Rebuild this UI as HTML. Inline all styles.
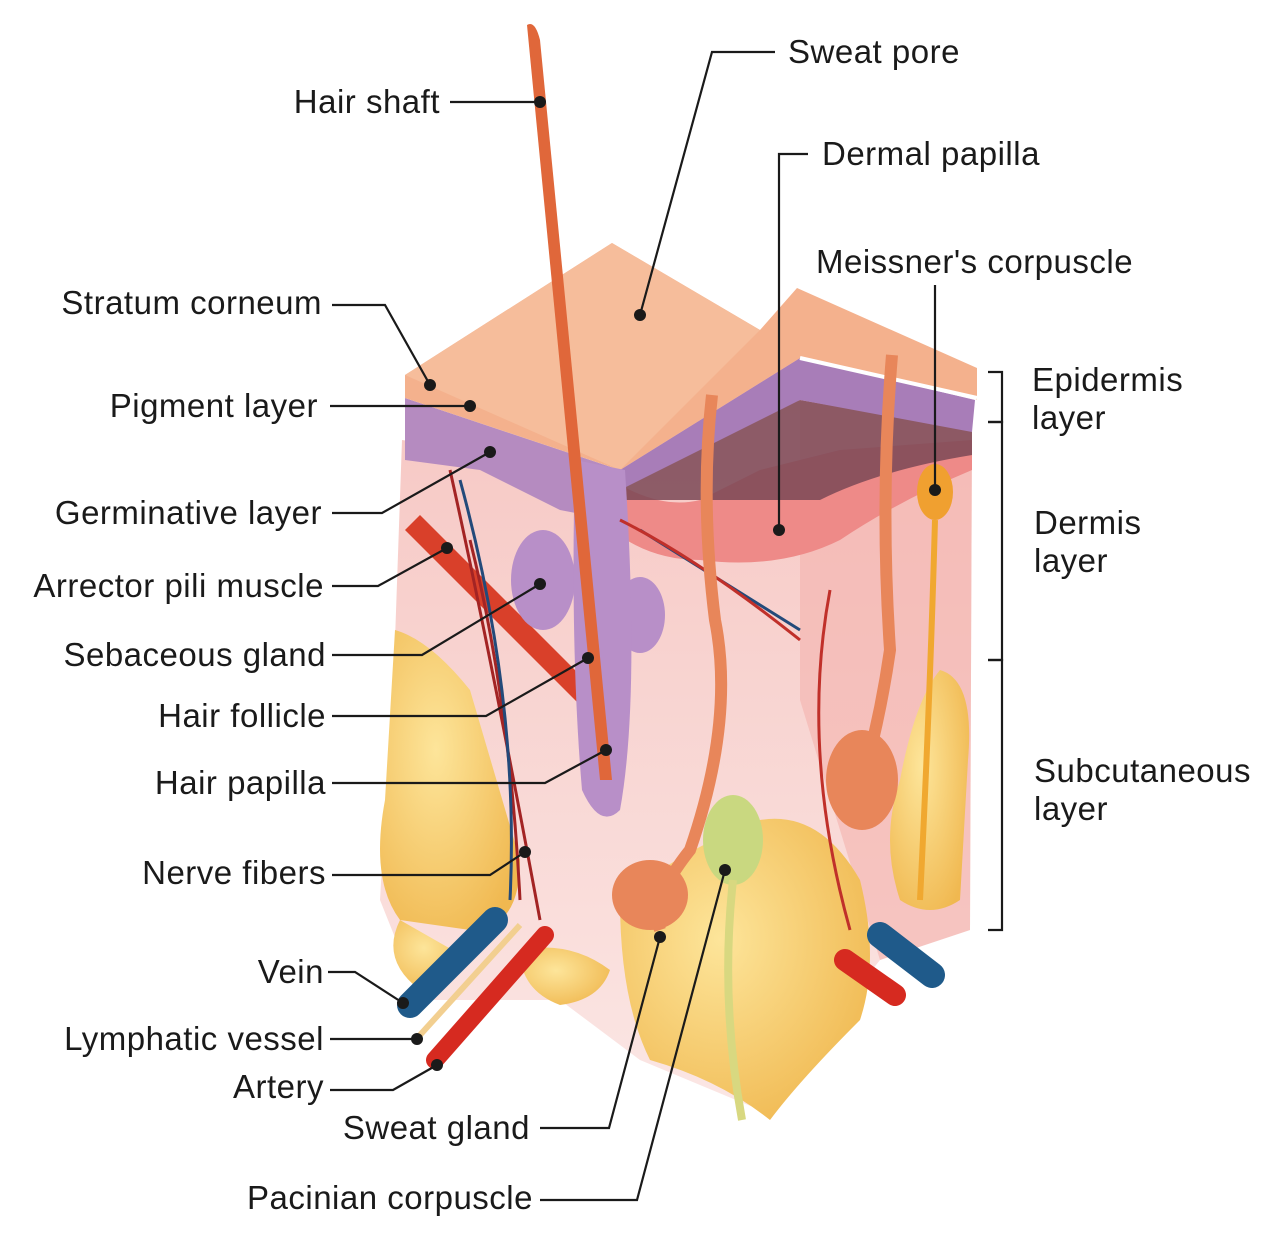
<!DOCTYPE html>
<html><head><meta charset="utf-8"><style>
body{margin:0;background:#fff;}
svg{display:block;}
text{font-family:"Liberation Sans",sans-serif;font-size:33px;letter-spacing:0.5px;fill:#1a1a1a;}
</style></head><body>
<svg width="1280" height="1241" viewBox="0 0 1280 1241" xmlns="http://www.w3.org/2000/svg">
<defs>
<linearGradient id="derm" x1="0" y1="0" x2="0" y2="1"><stop offset="0" stop-color="#f6c6c2"/><stop offset="1" stop-color="#fbe6e4"/></linearGradient>
<radialGradient id="fat" cx="0.4" cy="0.4" r="0.7"><stop offset="0" stop-color="#fde59a"/><stop offset="1" stop-color="#f0b850"/></radialGradient>
</defs>
<polygon points="402,440 610,470 800,355 972,420 970,930 880,960 760,1110 640,1060 560,1000 420,1000 380,900 395,640" fill="url(#derm)"/>
<polygon points="800,355 972,420 970,930 880,960 800,700" fill="#f4b2ae" opacity="0.6"/>
<path d="M395,630 Q430,640 470,690 L520,860 Q520,930 470,930 L400,920 Q370,880 385,800 Z" fill="url(#fat)"/>
<path d="M400,920 Q380,960 420,990 L470,960 Z" fill="url(#fat)"/>
<path d="M620,900 Q680,850 760,820 Q820,810 860,880 Q880,960 860,1020 Q800,1080 770,1120 Q720,1080 650,1060 Q620,1000 620,900 Z" fill="url(#fat)"/>
<path d="M940,670 Q975,680 968,760 L960,900 Q930,920 900,900 Q880,840 900,780 Q915,700 940,670 Z" fill="url(#fat)"/>
<path d="M520,950 Q570,940 610,970 Q600,1000 560,1005 Q520,990 520,950 Z" fill="url(#fat)"/>
<path d="M612,480 Q660,510 700,500 L760,470 Q800,460 840,450 L972,440 L972,470 Q900,500 840,540 Q780,570 700,560 Q650,560 612,530 Z" fill="#ee8a88"/>
<path d="M612,475 L800,400 L972,430 L972,455 Q880,470 820,500 L612,500 Z" fill="#7a4856" opacity="0.85"/>
<polygon points="405,398 620,470 612,520 560,510 480,470 405,460" fill="#b58bc0"/>
<polygon points="620,470 800,358 975,400 972,432 800,400 620,490" fill="#a87db8"/>
<polygon points="405,375 612,243 760,330 797,288 977,368 977,400 800,358 620,470 405,398" fill="#f4b18d"/>
<polygon points="612,243 760,330 620,470 405,375" fill="#f6bd9b"/>
<polyline points="800,358 977,398" stroke="#fff" stroke-width="4" fill="none"/>
<polygon points="405,530 420,515 595,690 580,705" fill="#d9402a"/>
<ellipse cx="543" cy="580" rx="32" ry="50" fill="#b88fc8"/>
<ellipse cx="640" cy="615" rx="25" ry="38" fill="#b88fc8"/>
<path d="M575,460 Q570,650 582,790 Q600,830 620,810 Q640,700 625,470 Z" fill="#b88fc8"/>
<path d="M527,25 Q535,20 540,40 L612,780 L600,780 Z" fill="#e0673a"/>
<path d="M470,540 Q510,700 520,900 M450,470 Q490,650 540,920" stroke="#a32424" stroke-width="3" fill="none"/>
<path d="M460,480 Q520,700 510,900 M640,530 Q720,580 800,630" stroke="#234a7a" stroke-width="3" fill="none"/>
<path d="M620,520 Q700,560 800,640 M830,590 Q800,750 850,930" stroke="#c0302a" stroke-width="3" fill="none"/>
<path d="M712,395 Q700,500 715,620 Q735,720 690,850 Q650,900 660,930" stroke="#e8865a" stroke-width="12" fill="none"/>
<ellipse cx="650" cy="895" rx="38" ry="35" fill="#e8865a"/>
<path d="M892,355 Q880,500 890,650 Q880,720 860,790" stroke="#e8865a" stroke-width="12" fill="none"/>
<ellipse cx="862" cy="780" rx="36" ry="50" fill="#e8865a"/>
<ellipse cx="935" cy="492" rx="18" ry="28" fill="#f0a030"/>
<path d="M935,520 Q930,700 920,900" stroke="#f0a830" stroke-width="6" fill="none"/>
<ellipse cx="733" cy="840" rx="30" ry="45" fill="#c9d880"/>
<path d="M733,880 Q720,1000 742,1120" stroke="#d8d880" stroke-width="8" fill="none"/>
<line x1="410" y1="1005" x2="495" y2="920" stroke="#1f5a8a" stroke-width="26" stroke-linecap="round"/>
<line x1="435" y1="1060" x2="545" y2="935" stroke="#d62a20" stroke-width="18" stroke-linecap="round"/>
<line x1="420" y1="1035" x2="520" y2="925" stroke="#f2cf90" stroke-width="6"/>
<line x1="845" y1="960" x2="895" y2="995" stroke="#d62a20" stroke-width="22" stroke-linecap="round"/>
<line x1="880" y1="935" x2="932" y2="975" stroke="#1f5a8a" stroke-width="26" stroke-linecap="round"/>
<g stroke="#1a1a1a" stroke-width="2.2" fill="none">
<polyline points="450,102 540,102"/>
<polyline points="775,52 712,52 640,315"/>
<polyline points="808,154 779,154 779,530"/>
<polyline points="935,285 935,490"/>
<polyline points="332,305 385,305 430,385"/>
<polyline points="330,406 470,406"/>
<polyline points="332,513 382,513 490,452"/>
<polyline points="332,586 378,586 447,548"/>
<polyline points="332,655 422,655 540,584"/>
<polyline points="332,716 486,716 588,658"/>
<polyline points="332,783 545,783 606,750"/>
<polyline points="332,875 490,875 525,852"/>
<polyline points="328,972 355,972 403,1003"/>
<polyline points="330,1039 417,1039"/>
<polyline points="330,1090 393,1090 437,1065"/>
<polyline points="540,1128 609,1128 660,937"/>
<polyline points="540,1200 637,1200 725,870"/>
<polyline points="988,372 1002,372 1002,422 988,422 M1002,397 1018,397"/>
<polyline points="988,422 1002,422 1002,660 988,660 M1002,540 1018,540"/>
<polyline points="988,660 1002,660 1002,930 988,930 M1002,785 1018,785"/>
</g>
<g fill="#1a1a1a">
<circle cx="540" cy="102" r="6"/><circle cx="640" cy="315" r="6"/><circle cx="779" cy="530" r="6"/>
<circle cx="935" cy="490" r="6"/><circle cx="430" cy="385" r="6"/><circle cx="470" cy="406" r="6"/>
<circle cx="490" cy="452" r="6"/><circle cx="447" cy="548" r="6"/><circle cx="540" cy="584" r="6"/>
<circle cx="588" cy="658" r="6"/><circle cx="606" cy="750" r="6"/><circle cx="525" cy="852" r="6"/>
<circle cx="403" cy="1003" r="6"/><circle cx="417" cy="1039" r="6"/><circle cx="437" cy="1065" r="6"/>
<circle cx="660" cy="937" r="6"/><circle cx="725" cy="870" r="6"/>
</g>
<g text-anchor="end">
<text x="440" y="113">Hair shaft</text>
<text x="322" y="314">Stratum corneum</text>
<text x="318" y="417">Pigment layer</text>
<text x="322" y="524">Germinative layer</text>
<text x="324" y="597">Arrector pili muscle</text>
<text x="326" y="666">Sebaceous gland</text>
<text x="326" y="727">Hair follicle</text>
<text x="326" y="794">Hair papilla</text>
<text x="326" y="884">Nerve fibers</text>
<text x="324" y="983">Vein</text>
<text x="324" y="1050">Lymphatic vessel</text>
<text x="324" y="1098">Artery</text>
<text x="530" y="1139">Sweat gland</text>
<text x="533" y="1209">Pacinian corpuscle</text>
</g>
<text x="788" y="63">Sweat pore</text>
<text x="822" y="165">Dermal papilla</text>
<text x="816" y="273">Meissner's corpuscle</text>
<text x="1032" y="391">Epidermis</text>
<text x="1032" y="429">layer</text>
<text x="1034" y="534">Dermis</text>
<text x="1034" y="572">layer</text>
<text x="1034" y="782">Subcutaneous</text>
<text x="1034" y="820">layer</text>
</svg>
</body></html>
